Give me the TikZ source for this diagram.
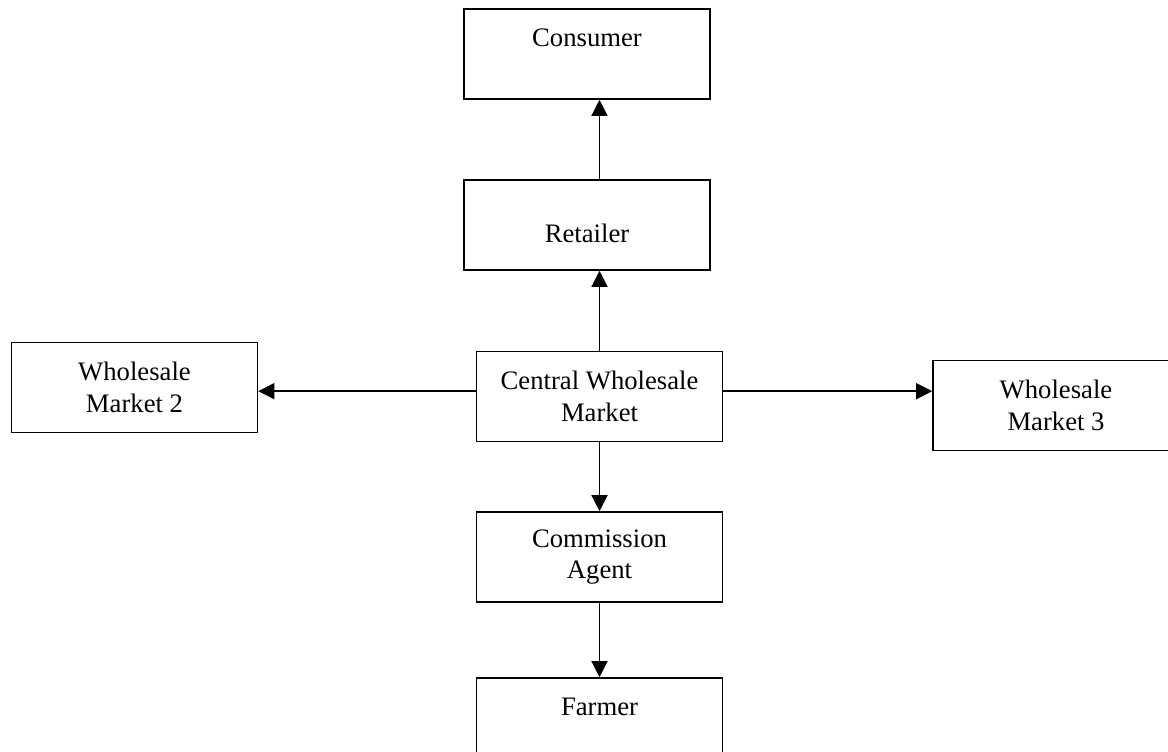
\documentclass[tikz,border=0pt]{standalone}
\usepackage{fontspec}
\setmainfont{Liberation Serif}
\usepackage{tikz}
\usetikzlibrary{arrows.meta, positioning}
\tikzset{
	box/.style={draw, line width=1.2pt, rectangle, align=center,
		minimum width=184.5pt, minimum height=67.5pt, inner sep=0pt,
		font=\fontsize{20}{23.5}\selectfont},
	flow/.style={line width=1pt, -{Triangle[length=12pt, width=12pt]}}
}

\begin{document}
\begin{tikzpicture}[
	x=0.75pt, y=-0.75pt,
	uptext/.style={text height=14pt, text depth=25.5pt},
	lowtext/.style={text height=26pt, text depth=0pt}]
	\useasboundingbox (0,0) rectangle (1168,752);
	\clip (0,0) rectangle (1168,752);
	\node[box, uptext] (consumer) at (587,54) {Consumer};
	\node[box, lowtext] (retailer) at (587,225) {Retailer};
	\node[box] (central) at (599.5,396.5) {Central Wholesale\\Market};
	\node[box] (wm2) at (134.5,387.5) {Wholesale\\Market 2};
	\node[box] (wm3) at (1056,405.5) {Wholesale\\Market 3};
	\node[box] (agent) at (599.5,557) {Commission\\Agent};
	\node[box, uptext] (farmer) at (599.5,723) {Farmer};
	% arrows
	\draw[flow] (retailer.north -| central) -- (consumer.south -| central);
	\draw[flow] (central.north) -- (retailer.south -| central);
	\draw[flow] ([yshift=4pt]central.west) -- ([yshift=4pt]central.west -| wm2.east);
	\draw[flow] ([yshift=4pt]central.east) -- ([yshift=4pt]central.east -| wm3.west);
	\draw[flow] (central.south) -- (agent.north);
	\draw[flow] (agent.south) -- (farmer.north);
\end{tikzpicture}
\end{document}
